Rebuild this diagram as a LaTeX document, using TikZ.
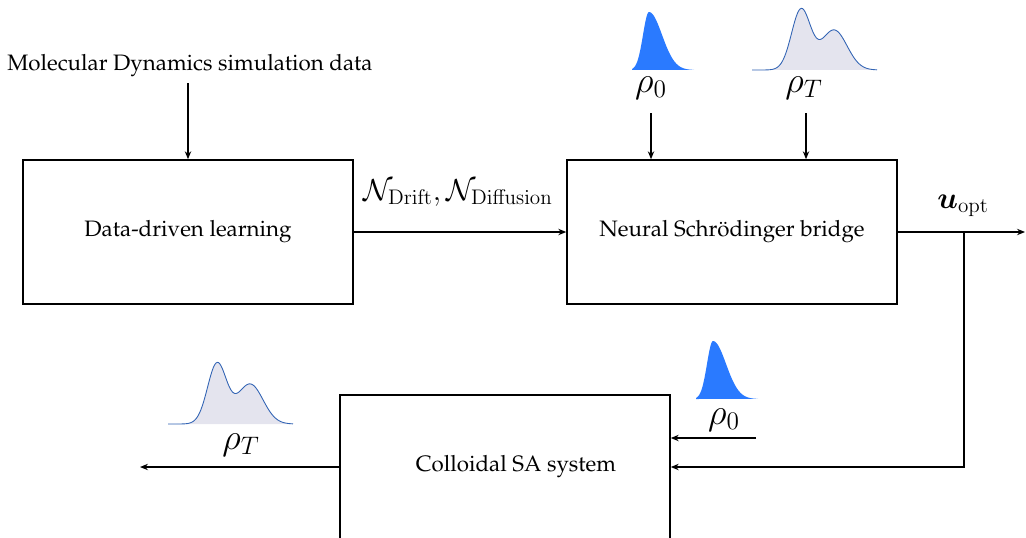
\documentclass[tikz,border=0pt]{standalone}
\usepackage[T1]{fontenc}
\usepackage{amsmath}
\renewcommand{\rmdefault}{ppl}
\usetikzlibrary{arrows.meta}
\definecolor{peakblue}{RGB}{42,122,255}
\definecolor{mixfill}{RGB}{228,228,238}
\definecolor{mixline}{RGB}{50,100,180}

\begin{document}
\begin{tikzpicture}[x=0.02cm,y=-0.02cm,
  block/.style={draw=black,line width=0.9pt,minimum width=6.6cm,minimum height=2.88cm,font=\fontsize{12.7}{15}\selectfont},
  link/.style={line width=0.9pt,-{Stealth[length=4.5pt,width=3.6pt]}},
  lbl/.style={font=\fontsize{16.6}{20}\selectfont},
  rholbl/.style={font=\huge},
  pics/peak/.style={code={
    \fill[peakblue] (-17,0) -- plot[domain=-17:0,samples=30] (\x,{-58*exp(-(\x/6)^2/2)})
      -- plot[domain=0:45,samples=40] (\x,{-58*exp(-(\x/13)^2/2)}) -- cycle;
  }},
  pics/mix/.style={code={
    \fill[mixfill] (-49,0) -- plot[domain=-49:76,samples=100] (\x,{-(60*exp(-(\x/9.5)^2/2)+40*exp(-((\x-33)/13)^2/2))}) -- (76,0) -- cycle;
    \draw[mixline,line width=0.5pt] plot[domain=-49:76,samples=100] (\x,{-(60*exp(-(\x/9.5)^2/2)+40*exp(-((\x-33)/13)^2/2))});
  }}]
\useasboundingbox (0,0) rectangle (1026,537);
% boxes
\node (md) at (190,66) [font=\fontsize{12.7}{15}\selectfont] {Molecular Dynamics simulation data};
\node[block] (learn) at (188,232) {Data-driven learning};
\node[block] (bridge) at (732,232) {Neural Schr\"odinger bridge};
\node[block] (colloid) at (505,467) {\hspace*{0.44cm}Colloidal SA system};
% densities
\pic at (649,70) {peak};
\pic at (801,70) {mix};
\pic at (713,399) {peak};
\pic at (217,424) {mix};
\node[rholbl] (rho0) at (651,88) {$\rho_0$};
\node[rholbl] (rhoT) at (804,88) {$\rho_T$};
\node[rholbl] (rho0b) at (724,420) {$\rho_0$};
\node[rholbl] (rhoTb) at (241,445) {$\rho_T$};
\node[lbl] (drift) at (458,193) {$\mathcal{N}_{\mathrm{Drift}},\mathcal{N}_{\mathrm{Diffusion}}$};
\node[font=\LARGE] (uopt) at (963,206) {$\boldsymbol{u}_{\mathrm{opt}}$};
% connectors
\coordinate (r0top) at (651,113);
\coordinate (rTtop) at (806,113);
\coordinate (tap) at (964,232);
\coordinate (out) at (1025,232);
\coordinate (r0in) at (756,438);
\coordinate (rTout) at (140,467);
\draw[link] (md.south -| learn.north) -- (learn.north);
\draw[link] (learn) -- (bridge);
\draw[link] (r0top) -- (r0top |- bridge.north);
\draw[link] (rTtop) -- (rTtop |- bridge.north);
\draw[link] (bridge) -- (out);
\draw[link] (tap) |- (colloid);
\draw[link] (r0in) -- (r0in -| colloid.east);
\draw[link] (colloid) -- (rTout);
\end{tikzpicture}
\end{document}
